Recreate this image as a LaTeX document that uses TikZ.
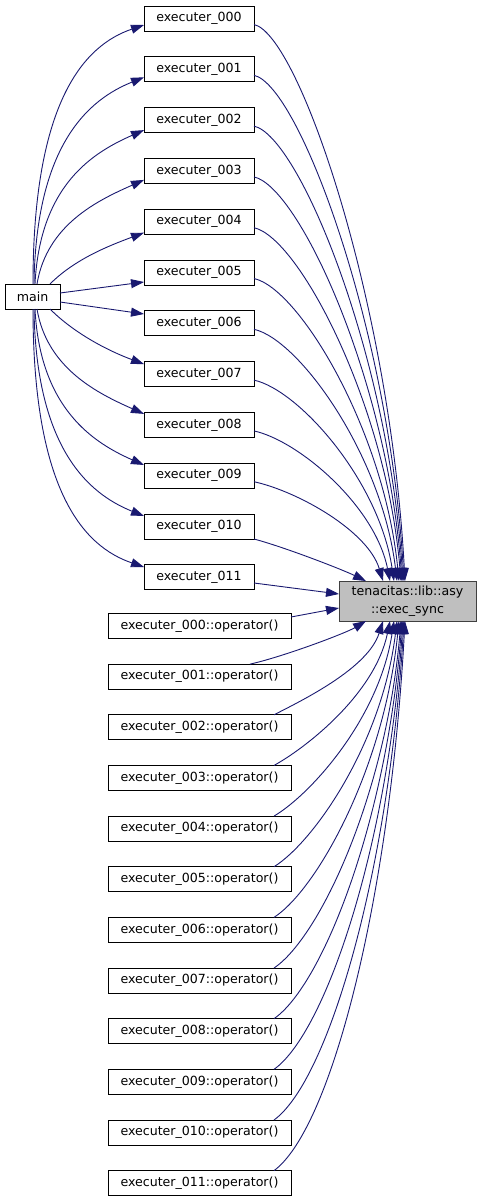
\documentclass[tikz,border=0pt]{standalone}
\usepackage{fontspec}
\setmainfont{DejaVu Sans}
\usetikzlibrary{arrows.meta, positioning}
\definecolor{edgeblue}{HTML}{191970}
\definecolor{curfill}{HTML}{BFBFBF}
\definecolor{curdraw}{HTML}{404040}

\begin{document}
\begin{tikzpicture}[x=1pt, y=-1pt,
        fn/.style={rectangle, draw=black, fill=white, line width=0.9pt, outer sep=0pt, inner sep=0pt, minimum width=110pt, minimum height=25pt, font=\fontsize{12.6}{15}\selectfont},
        opfn/.style={fn, minimum width=183pt},
        cur/.style={fn, fill=curfill, draw=curdraw, minimum width=137pt, minimum height=40pt, align=center, font=\fontsize{12.6}{18}\selectfont},
        call/.style={draw=edgeblue, line width=0.9pt, -{Triangle[length=13pt,width=9pt]}}]

        \useasboundingbox (0,0) rectangle (481,1203);

        % Nodes
        \node [fn, minimum width=55pt] (main) at (32.5,296.5) {main};
        \node [cur] (tgt) at (407.5,601) {tenacitas::lib::asy\\::exec\_sync};
        \node [fn] (e0) at (199,18.5) {executer\_000};
        \foreach \i [evaluate=\i as \p using int(\i-1)] in {1,...,11}
            \node [fn, below=25.8pt of e\p] (e\i) {executer\_0\ifnum\i<10 0\fi\i};
        \node [opfn] (o0) at (199.5,626) {executer\_000::operator()};
        \foreach \i [evaluate=\i as \p using int(\i-1)] in {1,...,11}
            \node [opfn, below=25.65pt of o\p] (o\i) {executer\_0\ifnum\i<10 0\fi\i::operator()};

        % main -> executers
        \foreach \i/\sx/\ax/\ay/\bx/\by/\ey in {0/0.5/0/-184/-59/20/-6.5, 1/1.5/2/-140/-55/22/-8, 2/2.5/5/-100/-50/22/-10, 3/4.5/10/-60/-45/20/-9, 4/17.5/25/-25/-35/13/-11}
            \draw [call] ([xshift=\sx pt]main.north) .. controls +(\ax,\ay) and +(\bx,\by) .. ([yshift=\ey pt]e\i.west);
        \draw [call] ([yshift=3.5pt]main.east) -- ([yshift=-9.5pt]e5.west);
        \draw [call] ([yshift=-5.5pt]main.east) -- ([yshift=9.3pt]e6.west);
        \foreach \i/\sx/\ax/\ay/\bx/\by/\ey in {7/17.5/25/25/-35/-13/10, 8/4.5/10/60/-45/-20/11, 9/2.5/5/100/-50/-22/10.7, 10/1.5/2/140/-55/-22/10.5, 11/0.5/0/184/-59/-20/10.3}
            \draw [call] ([xshift=\sx pt]main.south) .. controls +(\ax,\ay) and +(\bx,\by) .. ([yshift=\ey pt]e\i.west);

        % executers -> exec_sync
        \foreach \i/\ex in {0/-2.5, 1/-3.5, 2/-4.5, 3/-5.5, 4/-6.5, 5/-8.5, 6/-10.5, 7/-13.5, 8/-17.5, 9/-24.5} {
            \pgfmathsetmacro{\h}{278.25-25.4*\i}
            \draw [call] ([yshift=-6pt]e\i.east) .. controls +(45,10) and +(-15,-\h) .. ([xshift=\ex pt]tgt.north);
        }
        \draw [call] (e10.south east) .. controls +(30,8) and +(-25,-12) .. ([xshift=-41.5pt]tgt.north);
        \draw [call] ([yshift=-5.7pt]e11.east) -- ([yshift=7pt]tgt.west);

        % operators -> exec_sync
        \draw [call] ([yshift=9pt]o0.east) -- ([yshift=-7pt]tgt.west);
        \draw [call] ([xshift=50.5pt]o1.north) .. controls +(35,-8) and +(-20,12) .. ([xshift=-41.5pt]tgt.south);
        \foreach \i/\ex in {2/-24.5, 3/-17.5, 4/-13.5, 5/-10.5, 6/-8.5, 7/-6.5, 8/-5.5, 9/-4.5, 10/-3.5, 11/-2.5} {
            \pgfmathsetmacro{\d}{613.5+50.65*\i-621}
            \pgfmathsetmacro{\ax}{25+0.06*\d}
            \pgfmathsetmacro{\ay}{-10-0.06*\d}
            \pgfmathsetmacro{\h}{0.5*\d}
            \draw [call] ([xshift=74.5pt]o\i.north) .. controls +(\ax,\ay) and +(-15,\h) .. ([xshift=\ex pt]tgt.south);
        }
\end{tikzpicture}
\end{document}
